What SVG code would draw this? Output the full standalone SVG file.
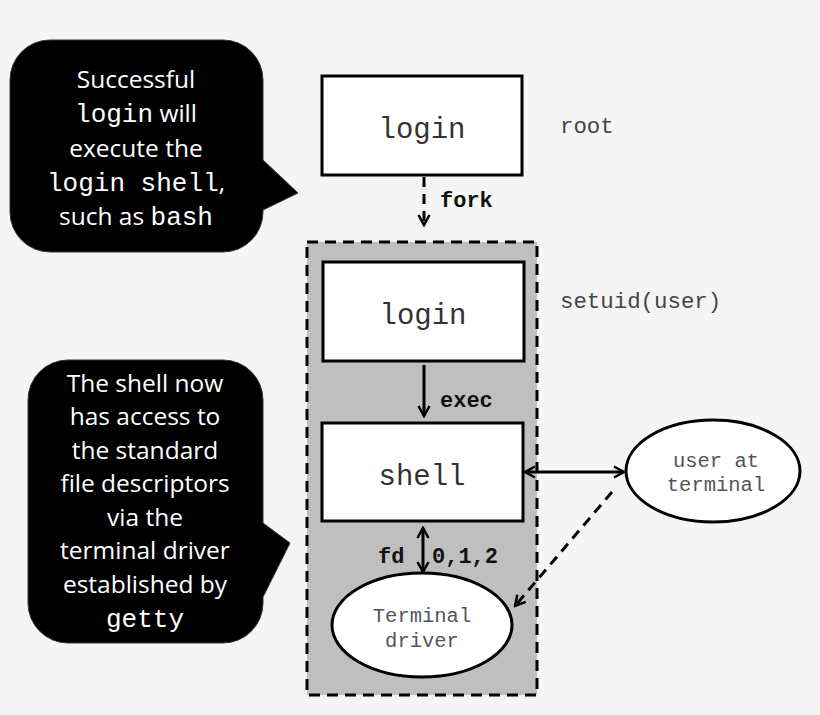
<svg xmlns="http://www.w3.org/2000/svg" width="820" height="715" viewBox="0 0 820 715">
<style>
.bub{fill:#000;stroke:#333;stroke-width:1}
.bt{font-family:"Open Sans","Liberation Sans",sans-serif;font-size:24.5px;fill:#fff;text-anchor:middle}
.m{font-family:"Liberation Mono","DejaVu Sans Mono",monospace;font-size:26px}
.box{fill:#fff;stroke:#000;stroke-width:3}
.bx{font-family:"Liberation Mono","DejaVu Sans Mono",monospace;font-size:29px;fill:#333;text-anchor:middle}
.side{font-family:"Liberation Mono","DejaVu Sans Mono",monospace;font-size:22.4px;fill:#444}
.lbl{font-family:"Liberation Mono","DejaVu Sans Mono",monospace;font-size:22px;font-weight:bold;fill:#111}
.el{font-family:"Liberation Mono","DejaVu Sans Mono",monospace;font-size:20.5px;fill:#555;text-anchor:middle}
.ln{fill:none;stroke:#000;stroke-width:3}
.dash{stroke-dasharray:10,7}
</style>
<defs>
<marker id="ah" viewBox="0 0 14 14" refX="12" refY="7" markerWidth="14" markerHeight="14" markerUnits="userSpaceOnUse" orient="auto-start-reverse">
<path d="M2,1.5 L12,7 L2,12.5" fill="none" stroke="#000" stroke-width="2.5"/>
</marker>
</defs>
<rect width="820" height="715" fill="#f5f5f5"/>

<g id="bubble-top">
<path class="bub" d="M50,40 H223 A40,40 0 0 1 263,80 V160 L298,193 L263,210 V212 A40,40 0 0 1 223,252 H50 A40,40 0 0 1 10,212 V80 A40,40 0 0 1 50,40 Z"/>
<text class="bt" x="136" y="88">Successful</text>
<text class="bt" x="136" y="122"><tspan class="m">login</tspan> will</text>
<text class="bt" x="136" y="157">execute the</text>
<text class="bt" x="136" y="191"><tspan class="m">login shell</tspan>,</text>
<text class="bt" x="136" y="225">such as <tspan class="m">bash</tspan></text>
</g>

<g id="bubble-bottom">
<path class="bub" d="M68,360 H223 A40,40 0 0 1 263,400 V523 L290,543 L263,597 V603 A40,40 0 0 1 223,643 H68 A40,40 0 0 1 28,603 V400 A40,40 0 0 1 68,360 Z"/>
<text class="bt" x="145" y="392">The shell now</text>
<text class="bt" x="145" y="425">has access to</text>
<text class="bt" x="145" y="459">the standard</text>
<text class="bt" x="145" y="492">file descriptors</text>
<text class="bt" x="145" y="526">via the</text>
<text class="bt" x="145" y="559">terminal driver</text>
<text class="bt" x="145" y="593">established by</text>
<text class="bt" x="145" y="627"><tspan class="m">getty</tspan></text>
</g>

<g id="container">
<rect x="307" y="242" width="230" height="453" fill="#bfbfbf" stroke="#000" stroke-width="3" stroke-dasharray="11,7"/>
</g>

<g id="login-root">
<rect class="box" x="322" y="76" width="200" height="99"/>
<text class="bx" x="422" y="138">login</text>
<text class="side" x="560" y="133">root</text>
</g>

<g id="login-user">
<rect class="box" x="323" y="262" width="201" height="99"/>
<text class="bx" x="423" y="324">login</text>
<text class="side" x="560" y="308">setuid(user)</text>
</g>

<g id="shell">
<rect class="box" x="322" y="423" width="201" height="98"/>
<text class="bx" x="422" y="485">shell</text>
</g>

<g id="terminal-driver">
<ellipse cx="422" cy="625" rx="90" ry="52" fill="#fff" stroke="#000" stroke-width="3"/>
<text class="el" x="422" y="622">Terminal</text>
<text class="el" x="422" y="647">driver</text>
</g>

<g id="user-terminal">
<ellipse cx="713" cy="471" rx="87" ry="51" fill="#fff" stroke="#000" stroke-width="3"/>
<text class="el" x="716" y="467">user at</text>
<text class="el" x="716" y="491">terminal</text>
</g>

<g id="connectors">
<line class="ln dash" x1="424" y1="177" x2="424" y2="225" marker-end="url(#ah)"/>
<text class="lbl" x="440" y="207">fork</text>
<line class="ln" x1="424" y1="365" x2="424" y2="416" marker-end="url(#ah)"/>
<text class="lbl" x="440" y="407">exec</text>
<line class="ln" x1="423" y1="528" x2="423" y2="572" marker-start="url(#ah)" marker-end="url(#ah)"/>
<text class="lbl" x="378" y="563">fd</text>
<text class="lbl" x="432" y="563">0,1,2</text>
<line class="ln" x1="525" y1="472" x2="624" y2="472" marker-start="url(#ah)" marker-end="url(#ah)"/>
<line class="ln dash" x1="612" y1="492" x2="515" y2="606" marker-end="url(#ah)"/>
</g>
</svg>
